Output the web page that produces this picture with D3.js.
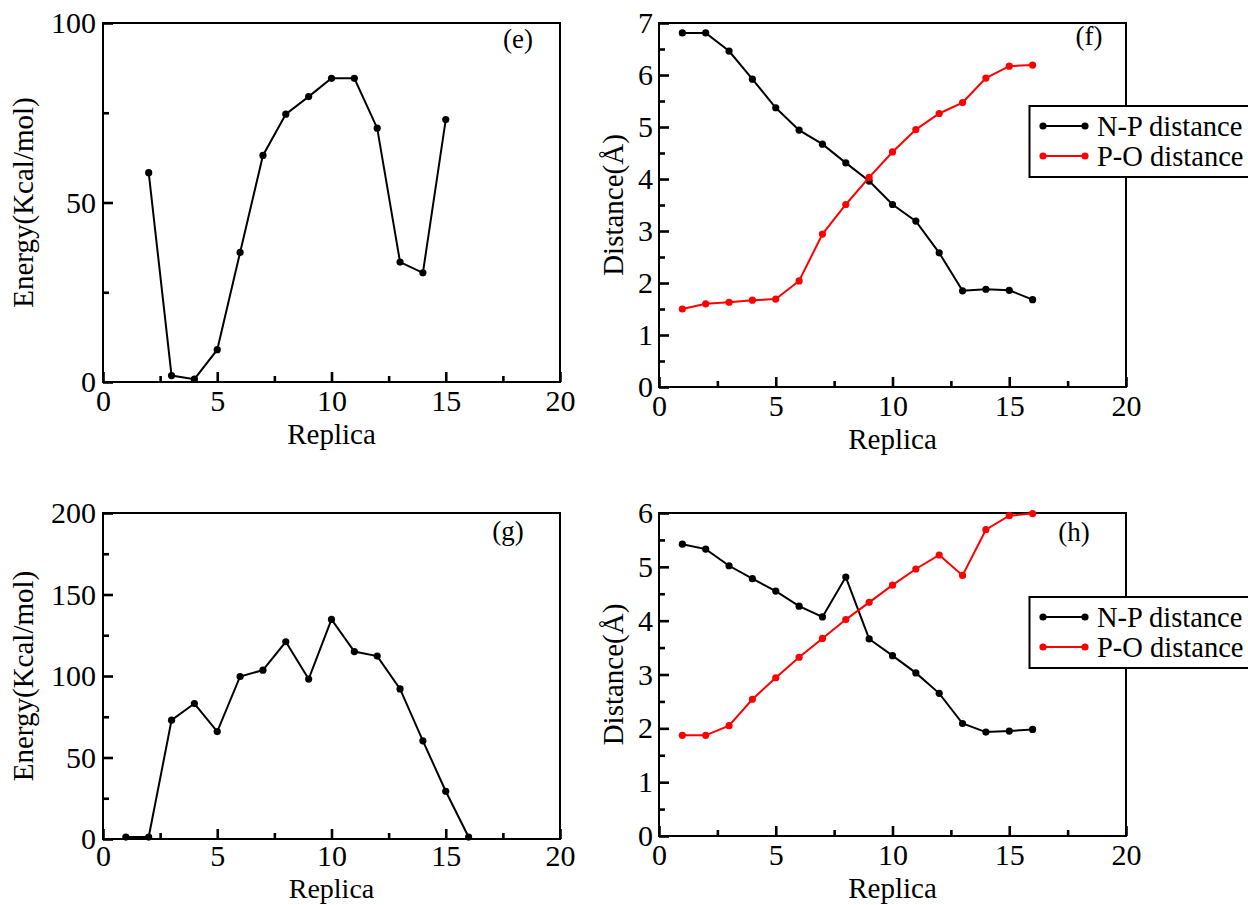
<!DOCTYPE html>
<html><head><meta charset="utf-8">
<script src="https://cdn.jsdelivr.net/npm/d3@7"></script>
</head><body style="margin:0;background:#fff">
<svg id="chart" width="1248" height="905" font-family="Liberation Serif"></svg>
<script>
// ---- data ----
const replicaE = [2,3,4,5,6,7,8,9,10,11,12,13,14,15];
const energyE  = [58.3,1.8,0.8,9.0,36.1,63.1,74.6,79.5,84.6,84.6,70.7,33.4,30.4,73.1];

const replicaF = [1,2,3,4,5,6,7,8,9,10,11,12,13,14,15,16];
const npDistF  = [6.81,6.81,6.46,5.92,5.37,4.94,4.67,4.31,3.96,3.51,3.19,2.58,1.85,1.88,1.86,1.68];
const poDistF  = [1.50,1.60,1.63,1.67,1.69,2.04,2.94,3.51,4.03,4.52,4.95,5.26,5.47,5.94,6.17,6.19];

const replicaG = [1,2,3,4,5,6,7,8,9,10,11,12,13,14,15,16];
const energyG  = [1.2,1.2,72.9,83.1,65.9,99.7,103.6,121.0,98.1,134.7,115.0,112.2,92.1,60.2,29.3,1.2];

const replicaH = [1,2,3,4,5,6,7,8,9,10,11,12,13,14,15,16];
const npDistH  = [5.42,5.33,5.02,4.78,4.55,4.27,4.07,4.81,3.66,3.35,3.03,2.65,2.09,1.93,1.95,1.98];
const poDistH  = [1.87,1.87,2.05,2.54,2.94,3.32,3.67,4.02,4.34,4.66,4.96,5.22,4.84,5.69,5.95,5.99];

const xTicks      = [0,5,10,15,20];
const xMinorTicks = [2.5,7.5,12.5,17.5];
const yTicksE     = [0,50,100];
const yMinorE     = [25,75];
const yTicksG     = [0,50,100,150,200];
const yMinorG     = [25,75,125,175];
const yTicksF     = [0,1,2,3,4,5,6,7];
const yMinorF     = [0.5,1.5,2.5,3.5,4.5,5.5,6.5];
const yTicksH     = [0,1,2,3,4,5,6];
const yMinorH     = [0.5,1.5,2.5,3.5,4.5,5.5];
const legendLabels = ["N-P distance","P-O distance"];
const seriesColors = ["#000000","#ff0000"];

const FONT = '"Liberation Serif", "Times New Roman", serif';
const svg = d3.select("#chart");

function panel(o){
  const g = svg.append("g");
  const x = d3.scaleLinear().domain([0,20]).range([o.l,o.r]);
  const y = d3.scaleLinear().domain(o.yDomain).range([o.b,o.t]);

  // axes (inward ticks)
  g.append("g").attr("transform",`translate(0,${o.b})`)
    .call(d3.axisBottom(x).tickValues(xTicks).tickSize(-10).tickPadding(o.xPad).tickFormat(d3.format("d")));
  g.append("g").attr("transform",`translate(0,${o.b})`)
    .call(d3.axisBottom(x).tickValues(xMinorTicks).tickSize(-6).tickFormat(""));
  g.append("g").attr("transform",`translate(${o.l},0)`)
    .call(d3.axisLeft(y).tickValues(o.yTicks).tickSize(-10).tickPadding(o.yPad).tickFormat(d3.format("d")));
  g.append("g").attr("transform",`translate(${o.l},0)`)
    .call(d3.axisLeft(y).tickValues(o.yMinor).tickSize(-6).tickFormat(""));
  g.selectAll(".domain").remove();
  g.selectAll("g").attr("font-family",null).attr("font-size",null);
  g.selectAll(".tick line").attr("stroke","#000").attr("stroke-width",2.6);
  g.selectAll(".tick text").style("font-family",FONT).style("font-size","30px").attr("fill","#000");

  // frame
  g.append("rect").attr("x",o.l).attr("y",o.t).attr("width",o.r-o.l).attr("height",o.b-o.t)
    .attr("fill","none").attr("stroke","#000").attr("stroke-width",2);

  // series
  o.series.forEach(s=>{
    const pts = s.x.map((xv,i)=>[xv,s.y[i]]);
    g.append("path").datum(pts)
      .attr("d",d3.line().x(d=>x(d[0])).y(d=>y(d[1])))
      .attr("fill","none").attr("stroke",s.color).attr("stroke-width",2);
    g.selectAll(null).data(pts).enter().append("circle")
      .attr("cx",d=>x(d[0])).attr("cy",d=>y(d[1])).attr("r",3.6).attr("fill",s.color);
  });

  const txt = (sel)=>sel.style("font-family",FONT).attr("fill","#000");

  // panel label
  txt(g.append("text").attr("x",o.labelX).attr("y",o.labelY).attr("text-anchor","middle")
    .style("font-size","27px").text(o.label));

  // axis titles
  txt(g.append("text").attr("x",(o.l+o.r)/2).attr("y",o.xTitleY).attr("text-anchor","middle")
    .style("font-size",o.xTitleSize||"29px").text("Replica"));
  txt(g.append("text").attr("transform",`translate(${o.yTitleX},${(o.t+o.b)/2}) rotate(-90)`)
    .attr("text-anchor","middle").style("font-size","29px").text(o.yTitle));

  // legend
  if(o.legendTop!==undefined){
    const lg = g.append("g");
    lg.append("rect").attr("x",1029.5).attr("y",o.legendTop).attr("width",260).attr("height",71)
      .attr("fill","#fff").attr("stroke","#000").attr("stroke-width",2);
    legendLabels.forEach((lab,i)=>{
      const yy = o.legendTop + 20 + i*30;
      lg.append("line").attr("x1",1043).attr("x2",1085).attr("y1",yy).attr("y2",yy)
        .attr("stroke",seriesColors[i]).attr("stroke-width",2);
      [1043,1085].forEach(cx=>lg.append("circle").attr("cx",cx).attr("cy",yy).attr("r",3.6).attr("fill",seriesColors[i]));
      txt(lg.append("text").attr("x",1097).attr("y",yy+10).style("font-size","28.5px").text(lab));
    });
  }
}

panel({l:103,r:560,t:23,b:382,yDomain:[0,100],yTicks:yTicksE,yMinor:yMinorE,yPad:7,xPad:8,
  series:[{x:replicaE,y:energyE,color:seriesColors[0]}],
  label:"(e)",labelX:518,labelY:48,xTitleY:444,yTitleX:33,yTitle:"Energy(Kcal/mol)"});

panel({l:659,r:1126,t:23,b:387,yDomain:[0,7],yTicks:yTicksF,yMinor:yMinorF,yPad:6,xPad:8,
  series:[{x:replicaF,y:npDistF,color:seriesColors[0]},{x:replicaF,y:poDistF,color:seriesColors[1]}],
  label:"(f)",labelX:1089,labelY:45,xTitleY:449,yTitleX:623,yTitle:"Distance(Å)",legendTop:106});

panel({l:103,r:560,t:513,b:839,yDomain:[0,200],yTicks:yTicksG,yMinor:yMinorG,yPad:7,xPad:6,
  series:[{x:replicaG,y:energyG,color:seriesColors[0]}],
  label:"(g)",labelX:508,labelY:540,xTitleY:898,xTitleSize:"28px",yTitleX:33,yTitle:"Energy(Kcal/mol)"});

panel({l:659,r:1126,t:513,b:836,yDomain:[0,6],yTicks:yTicksH,yMinor:yMinorH,yPad:6,xPad:8,
  series:[{x:replicaH,y:npDistH,color:seriesColors[0]},{x:replicaH,y:poDistH,color:seriesColors[1]}],
  label:"(h)",labelX:1074,labelY:541,xTitleY:898,yTitleX:623,yTitle:"Distance(Å)",legendTop:597});
</script>
</body></html>
